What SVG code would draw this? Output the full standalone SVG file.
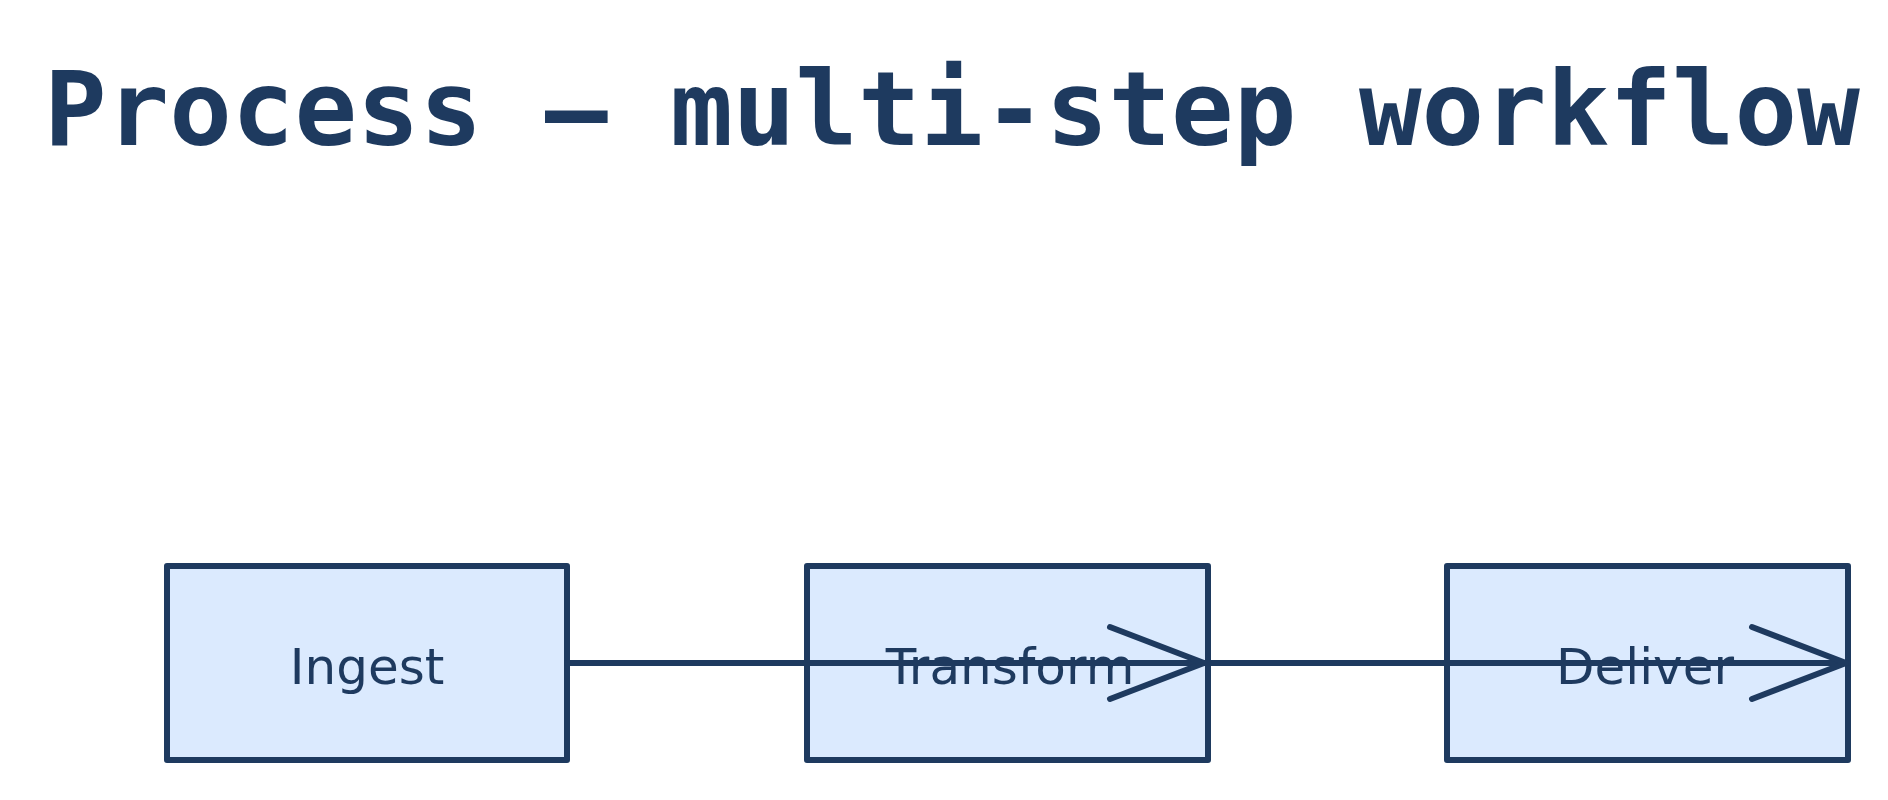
<svg xmlns="http://www.w3.org/2000/svg" width="1888" height="800" viewBox="0 0 1888 800">
<style>
.box{fill:#dbeafe;stroke:#1e3a5f;stroke-width:6;stroke-linejoin:round}
.lbl{font-family:"Comic Sans MS","DejaVu Sans",cursive;font-size:50px;fill:#1e3a5f;text-anchor:middle}
.title{font-family:"DejaVu Sans Mono",monospace;font-weight:bold;font-size:104px;fill:#1e3a5f}
.edge{fill:none;stroke:#1e3a5f;stroke-width:6;stroke-linecap:round;stroke-linejoin:round}
</style>
<rect width="1888" height="800" fill="#ffffff"/>
<text class="title" x="44" y="145">Process — multi-step workflow</text>
<g id="ingest"><rect class="box" x="167" y="566" width="400" height="194"/><text class="lbl" x="367" y="684">Ingest</text></g>
<g id="transform"><rect class="box" x="807" y="566" width="401" height="194"/><text class="lbl" x="1010" y="684">Transform</text></g>
<g id="deliver"><rect class="box" x="1447" y="566" width="401" height="194"/><text class="lbl" x="1645" y="684">Deliver</text></g>
<g id="connectors">
<path class="edge" d="M567 663 H1848"/>
<path class="edge" d="M1110 627 L1204 663 L1110 699"/>
<path class="edge" d="M1752 627 L1846 663 L1752 699"/>
</g>
</svg>
